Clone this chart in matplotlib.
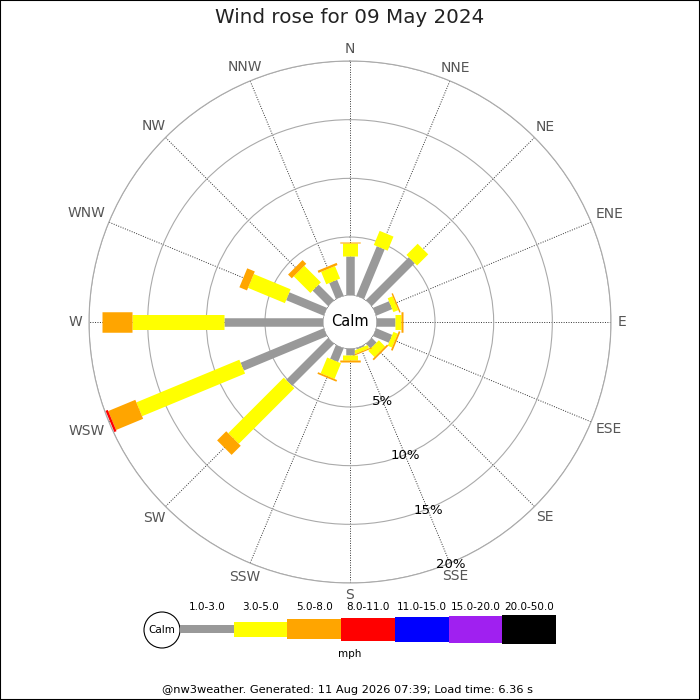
import numpy as np
import matplotlib
matplotlib.use("Agg")
import matplotlib.pyplot as plt
from matplotlib.patches import Rectangle, Circle

# wind directions and % of time per speed band (mph)
dirs = ['N', 'NNE', 'NE', 'ENE', 'E', 'ESE', 'SE', 'SSE',
        'S', 'SSW', 'SW', 'WSW', 'W', 'WNW', 'NW', 'NNW']
p_1_3 = [3.35, 4.6, 5.2, 1.5, 1.6, 1.5, 0.6, 0.15, 0.57, 1.3, 5.1, 7.7, 8.5, 3.5, 1.9, 1.5]
p_3_5 = [1.15, 1.3, 1.35, 0.45, 0.5, 0.4, 0.75, 0.3, 0.45, 1.45, 6.7, 9.5, 7.8, 3.4, 2.0, 1.15]
p_5_8 = [0.1, 0, 0, 0.12, 0.15, 0.15, 0.15, 0.1, 0.12, 0.15, 1.1, 2.5, 2.6, 0.7, 0.45, 0.2]
p_8_11 = [0, 0, 0, 0, 0, 0, 0, 0, 0, 0, 0, 0.2, 0, 0, 0, 0]

bands = ['1.0-3.0', '3.0-5.0', '5.0-8.0', '8.0-11.0', '11.0-15.0', '15.0-20.0', '20.0-50.0']
colors = ['#999999', '#ffff00', '#ffa500', '#ff0000', '#0000ff', '#a020f0', '#000000']
widths_px = [8.5, 15, 20.5, 23, 25, 27, 29]
rings = [5, 10, 15, 20]

px2pt = 72 / 100.0
pxper = 11.73      # px per percent
r0px = 26.3        # calm circle radius in px

fig = plt.figure(figsize=(7, 7), dpi=100)
fig.patch.set_facecolor('white')

# rose
R = 261 / 700.0
ax = fig.add_axes([0.5 - R, 1 - 322 / 700.0 - R, 2 * R, 2 * R], projection='polar')
ax.set_theta_zero_location('N')
ax.set_theta_direction(-1)
ax.set_ylim(0, 20)
ax.set_rorigin(-r0px / pxper)
theta = np.deg2rad(np.arange(16) * 22.5)
ax.set_xticks(theta)
ax.set_xticklabels([])
ax.set_yticks(rings)
ax.set_yticklabels([])
ax.tick_params(length=0)
ax.grid(axis='y', color='#aaaaaa', ls='-', lw=0.8)
ax.grid(axis='x', color='#333333', ls=(0, (1, 1.5)), lw=0.7)
ax.spines['polar'].set_color('#aaaaaa')
ax.spines['polar'].set_linewidth(0.8)
ax.spines['inner'].set_visible(False)

series = [p_1_3, p_3_5, p_5_8, p_8_11]
for i, th in enumerate(theta):
    start = 0
    for k, s in enumerate(series):
        v = s[i]
        if v > 0:
            ax.plot([th, th], [start, start + v], color=colors[k],
                    lw=widths_px[k] * px2pt, solid_capstyle='butt', zorder=3)
        start += v

# direction labels pushed out by their own size
renderer = fig.canvas.get_renderer()
for th, d in zip(theta, dirs):
    t = ax.text(th, 21.3, d, ha='center', va='center', fontsize=10,
                color='#555555', clip_on=False)
    bb = t.get_window_extent(renderer)
    ext = np.hypot(0.5 * bb.width * np.sin(th), 4.7 * np.cos(th))
    t.set_position((th, (268 + ext - r0px) / pxper))

for r in rings:
    ax.text(np.deg2rad(157.5), r + 0.1, '%d%%' % r, ha='center', va='center',
            fontsize=9.5, color='black', zorder=5, clip_on=False)

fig.text(0.5, 1 - 17.5 / 700.0, 'Wind rose for 09 May 2024', ha='center',
         va='center', fontsize=14.3, color='#222222')

# overlay in pixel coords: calm disc + legend
lg = fig.add_axes([0, 0, 1, 1])
lg.set_xlim(0, 700)
lg.set_ylim(700, 0)
lg.axis('off')
lg.patch.set_alpha(0)
lg.add_patch(Circle((350, 322), r0px + 0.3, fc='white', ec='none'))
lg.text(350, 322, 'Calm', ha='center', va='center', fontsize=10.5, color='black')

lg.add_patch(Circle((162, 630), 18, fc='white', ec='black', lw=0.8))
lg.text(162, 630, 'Calm', ha='center', va='center', fontsize=7.5)
x0, step, yc = 180, 53.7, 629
for k, (b, c, w) in enumerate(zip(bands, colors, widths_px)):
    lg.add_patch(Rectangle((x0 + k * step, yc - w / 2), step, w, fc=c, ec='none'))
    lg.text(x0 + k * step + step / 2, 607, b, ha='center', va='center', fontsize=7.5)
lg.text(350, 654, 'mph', ha='center', va='center', fontsize=7.5)
lg.text(348, 690, '@nw3weather. Generated: 11 Aug 2026 07:39; Load time: 6.36 s',
        ha='center', va='center', fontsize=8.2)

fig.add_artist(Rectangle((0, 0), 1, 1, transform=fig.transFigure, fill=False,
                         ec='black', lw=1.5))

fig.savefig('out.png', dpi=100)
